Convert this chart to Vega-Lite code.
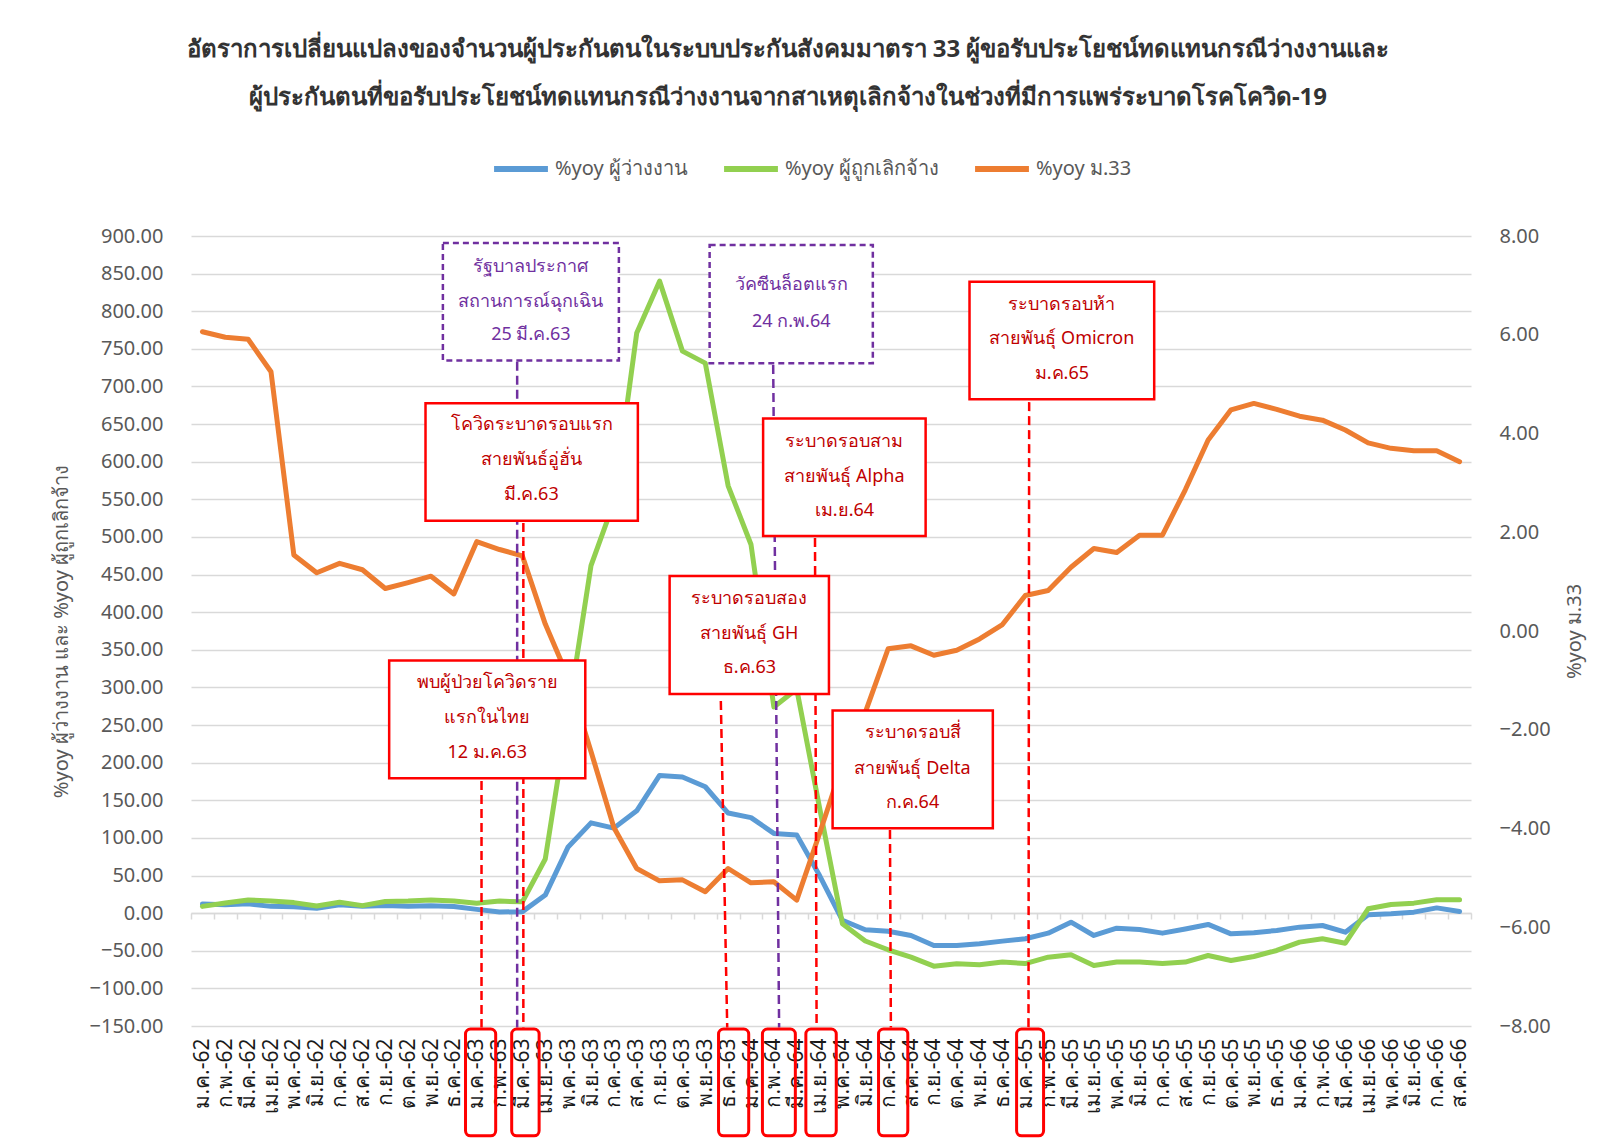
{
  "$schema": "https://vega.github.io/schema/vega-lite/v6.json",
  "width": 1280,
  "height": 790,
  "autosize": {"type": "none"},
  "padding": {"left": 191, "top": 236, "right": 146, "bottom": 114},
  "background": "white",
  "config": {
    "font": "Noto Sans",
    "view": {"stroke": null},
    "axis": {"gridColor": "#D9D9D9", "gridWidth": 1.5}
  },
  "title": {
    "text": [
      "อัตราการเปลี่ยนแปลงของจำนวนผู้ประกันตนในระบบประกันสังคมมาตรา  33 ผู้ขอรับประโยชน์ทดแทนกรณีว่างงานและ",
      "ผู้ประกันตนที่ขอรับประโยชน์ทดแทนกรณีว่างงานจากสาเหตุเลิกจ้างในช่วงที่มีการแพร่ระบาดโรคโควิด-19"
    ],
    "frame": "group",
    "anchor": "middle",
    "dx": -43,
    "offset": 29,
    "fontSize": 24,
    "fontWeight": "bold",
    "color": "#333333",
    "lineHeight": 48
  },
  "datasets": {
    "series": [
      {"i": 0, "month": "ม.ค.-62", "u": 12, "l": 9, "m": 6.06},
      {"i": 1, "month": "ก.พ.-62", "u": 11, "l": 13.5, "m": 5.95},
      {"i": 2, "month": "มี.ค.-62", "u": 12.4, "l": 17.5, "m": 5.91},
      {"i": 3, "month": "เม.ย.-62", "u": 9, "l": 16, "m": 5.25},
      {"i": 4, "month": "พ.ค.-62", "u": 8.4, "l": 14, "m": 1.54},
      {"i": 5, "month": "มิ.ย.-62", "u": 6.6, "l": 9.5, "m": 1.18},
      {"i": 6, "month": "ก.ค.-62", "u": 11, "l": 14.5, "m": 1.37},
      {"i": 7, "month": "ส.ค.-62", "u": 9, "l": 10, "m": 1.24},
      {"i": 8, "month": "ก.ย.-62", "u": 10, "l": 15.5, "m": 0.86},
      {"i": 9, "month": "ต.ค.-62", "u": 9.3, "l": 16, "m": 0.98},
      {"i": 10, "month": "พ.ย.-62", "u": 9.7, "l": 17.5, "m": 1.11},
      {"i": 11, "month": "ธ.ค.-62", "u": 8.9, "l": 16, "m": 0.75},
      {"i": 12, "month": "ม.ค.-63", "u": 5, "l": 13, "m": 1.81},
      {"i": 13, "month": "ก.พ.-63", "u": 1.5, "l": 16, "m": 1.65},
      {"i": 14, "month": "มี.ค.-63", "u": 2, "l": 15, "m": 1.52},
      {"i": 15, "month": "เม.ย.-63", "u": 24, "l": 72, "m": 0.14},
      {"i": 16, "month": "พ.ค.-63", "u": 88, "l": 265, "m": -0.94},
      {"i": 17, "month": "มิ.ย.-63", "u": 120, "l": 462, "m": -2.44},
      {"i": 18, "month": "ก.ค.-63", "u": 113, "l": 546, "m": -3.98},
      {"i": 19, "month": "ส.ค.-63", "u": 136, "l": 771, "m": -4.81},
      {"i": 20, "month": "ก.ย.-63", "u": 183, "l": 840, "m": -5.06},
      {"i": 21, "month": "ต.ค.-63", "u": 181, "l": 747, "m": -5.04},
      {"i": 22, "month": "พ.ย.-63", "u": 168, "l": 731, "m": -5.28},
      {"i": 23, "month": "ธ.ค.-63", "u": 133, "l": 568, "m": -4.81},
      {"i": 24, "month": "ม.ค.-64", "u": 127, "l": 490, "m": -5.1},
      {"i": 25, "month": "ก.พ.-64", "u": 106, "l": 274, "m": -5.08},
      {"i": 26, "month": "มี.ค.-64", "u": 104, "l": 298, "m": -5.45},
      {"i": 27, "month": "เม.ย.-64", "u": 50, "l": 140, "m": -4.1},
      {"i": 28, "month": "พ.ค.-64", "u": -9.5, "l": -14, "m": -2.7},
      {"i": 29, "month": "มิ.ย.-64", "u": -22, "l": -37, "m": -1.65},
      {"i": 30, "month": "ก.ค.-64", "u": -24, "l": -48.7, "m": -0.36},
      {"i": 31, "month": "ส.ค.-64", "u": -29.7, "l": -58.5, "m": -0.3},
      {"i": 32, "month": "ก.ย.-64", "u": -43, "l": -70.5, "m": -0.49},
      {"i": 33, "month": "ต.ค.-64", "u": -43, "l": -67.3, "m": -0.39},
      {"i": 34, "month": "พ.ย.-64", "u": -40.8, "l": -68.7, "m": -0.16},
      {"i": 35, "month": "ธ.ค.-64", "u": -37.2, "l": -65, "m": 0.13},
      {"i": 36, "month": "ม.ค.-65", "u": -34, "l": -67, "m": 0.72},
      {"i": 37, "month": "ก.พ.-65", "u": -26.6, "l": -58.5, "m": 0.82},
      {"i": 38, "month": "มี.ค.-65", "u": -12, "l": -55.4, "m": 1.29},
      {"i": 39, "month": "เม.ย.-65", "u": -29.7, "l": -69.6, "m": 1.67},
      {"i": 40, "month": "พ.ค.-65", "u": -20, "l": -65, "m": 1.59},
      {"i": 41, "month": "มิ.ย.-65", "u": -21.7, "l": -65, "m": 1.94},
      {"i": 42, "month": "ก.ค.-65", "u": -26.6, "l": -67, "m": 1.94},
      {"i": 43, "month": "ส.ค.-65", "u": -21, "l": -65, "m": 2.86},
      {"i": 44, "month": "ก.ย.-65", "u": -15, "l": -56.3, "m": 3.87},
      {"i": 45, "month": "ต.ค.-65", "u": -27.5, "l": -63, "m": 4.48},
      {"i": 46, "month": "พ.ย.-65", "u": -26, "l": -57.6, "m": 4.61},
      {"i": 47, "month": "ธ.ค.-65", "u": -23, "l": -49.6, "m": 4.49},
      {"i": 48, "month": "ม.ค.-66", "u": -18.6, "l": -38.5, "m": 4.35},
      {"i": 49, "month": "ก.พ.-66", "u": -16.4, "l": -34, "m": 4.27},
      {"i": 50, "month": "มี.ค.-66", "u": -25.3, "l": -40, "m": 4.07},
      {"i": 51, "month": "เม.ย.-66", "u": -2.2, "l": 5.8, "m": 3.81},
      {"i": 52, "month": "พ.ค.-66", "u": -0.9, "l": 11.5, "m": 3.7},
      {"i": 53, "month": "มิ.ย.-66", "u": 1.3, "l": 13.3, "m": 3.65},
      {"i": 54, "month": "ก.ค.-66", "u": 7, "l": 17.7, "m": 3.65},
      {"i": 55, "month": "ส.ค.-66", "u": 2.2, "l": 17.7, "m": 3.43}
    ],
    "boxes": [
      {"x1": 10.52, "x2": 18.22, "y1": 890.6, "y2": 734.5, "kind": "purple"},
      {"x1": 9.76, "x2": 19.05, "y1": 677.7, "y2": 521.5, "kind": "red"},
      {"x1": 8.17, "x2": 16.75, "y1": 335.7, "y2": 179.2, "kind": "red"},
      {"x1": 20.44, "x2": 27.41, "y1": 448, "y2": 291.2, "kind": "red"},
      {"x1": 22.19, "x2": 29.33, "y1": 888, "y2": 730.8, "kind": "purple"},
      {"x1": 24.53, "x2": 31.64, "y1": 657.4, "y2": 501.2, "kind": "red"},
      {"x1": 27.57, "x2": 34.58, "y1": 269.3, "y2": 112.7, "kind": "red"},
      {"x1": 33.56, "x2": 41.64, "y1": 839.2, "y2": 682.9, "kind": "red"}
    ],
    "links": [
      {"x1": 13.77, "y1": 733, "x2": 13.77, "y2": -152, "kind": "purple"},
      {"x1": 12.21, "y1": 175.6, "x2": 12.21, "y2": -152, "kind": "red"},
      {"x1": 14.04, "y1": 518.5, "x2": 14.04, "y2": -152, "kind": "red"},
      {"x1": 22.68, "y1": 282, "x2": 22.96, "y2": -152, "kind": "red"},
      {"x1": 24.97, "y1": 728.5, "x2": 25.23, "y2": -152, "kind": "purple"},
      {"x1": 26.8, "y1": 498.5, "x2": 26.87, "y2": -152, "kind": "red"},
      {"x1": 30.08, "y1": 110.5, "x2": 30.12, "y2": -152, "kind": "red"},
      {"x1": 36.17, "y1": 679.2, "x2": 36.14, "y2": -152, "kind": "red"}
    ],
    "marks": [
      {"x1": 11.51, "x2": 12.83, "y1": -154, "y2": -296},
      {"x1": 13.53, "x2": 14.73, "y1": -154, "y2": -296},
      {"x1": 22.58, "x2": 23.9, "y1": -154, "y2": -296},
      {"x1": 24.5, "x2": 25.94, "y1": -154, "y2": -296},
      {"x1": 26.4, "x2": 27.73, "y1": -154, "y2": -296},
      {"x1": 29.58, "x2": 30.86, "y1": -154, "y2": -296},
      {"x1": 35.62, "x2": 36.8, "y1": -154, "y2": -296}
    ],
    "notes": [
      {"x": 14.37, "y": 859.2, "text": "รัฐบาลประกาศ", "kind": "purple"},
      {"x": 14.37, "y": 812.6, "text": "สถานการณ์ฉุกเฉิน", "kind": "purple"},
      {"x": 14.37, "y": 768.4, "text": "25 มี.ค.63", "kind": "purple"},
      {"x": 14.4, "y": 648.7, "text": "โควิดระบาดรอบแรก", "kind": "red"},
      {"x": 14.4, "y": 602.2, "text": "สายพันธ์อู่ฮั่น", "kind": "red"},
      {"x": 14.4, "y": 555.6, "text": "มี.ค.63", "kind": "red"},
      {"x": 12.46, "y": 306.4, "text": "พบผู้ป่วยโควิดราย", "kind": "red"},
      {"x": 12.46, "y": 259.7, "text": "แรกในไทย", "kind": "red"},
      {"x": 12.46, "y": 213.1, "text": "12 ม.ค.63", "kind": "red"},
      {"x": 23.93, "y": 417, "text": "ระบาดรอบสอง", "kind": "red"},
      {"x": 23.93, "y": 371, "text": "สายพันธุ์ GH", "kind": "red"},
      {"x": 23.93, "y": 325.4, "text": "ธ.ค.63", "kind": "red"},
      {"x": 25.76, "y": 834.8, "text": "วัคซีนล็อตแรก", "kind": "purple"},
      {"x": 25.76, "y": 786, "text": "24 ก.พ.64", "kind": "purple"},
      {"x": 28.09, "y": 626.6, "text": "ระบาดรอบสาม", "kind": "red"},
      {"x": 28.09, "y": 580, "text": "สายพันธุ์ Alpha", "kind": "red"},
      {"x": 28.09, "y": 534.8, "text": "เม.ย.64", "kind": "red"},
      {"x": 31.07, "y": 239.5, "text": "ระบาดรอบสี่", "kind": "red"},
      {"x": 31.07, "y": 192, "text": "สายพันธุ์ Delta", "kind": "red"},
      {"x": 31.07, "y": 146, "text": "ก.ค.64", "kind": "red"},
      {"x": 37.6, "y": 808.2, "text": "ระบาดรอบห้า", "kind": "red"},
      {"x": 37.6, "y": 762.6, "text": "สายพันธุ์ Omicron", "kind": "red"},
      {"x": 37.6, "y": 716.5, "text": "ม.ค.65", "kind": "red"}
    ]
  },
  "resolve": {"scale": {"y": "independent"}, "axis": {"x": "independent"}},
  "layer": [
    {
      "data": {"name": "series"},
      "encoding": {
        "x": {
          "field": "i", "type": "quantitative",
          "scale": {"domain": [-0.5, 55.5], "nice": false, "zero": false},
          "axis": {
            "orient": "bottom", "title": null, "grid": false, "ticks": false, "domain": false,
            "values": [0,1,2,3,4,5,6,7,8,9,10,11,12,13,14,15,16,17,18,19,20,21,22,23,24,25,26,27,28,29,30,31,32,33,34,35,36,37,38,39,40,41,42,43,44,45,46,47,48,49,50,51,52,53,54,55],
            "labelExpr": "['ม.ค.','ก.พ.','มี.ค.','เม.ย.','พ.ค.','มิ.ย.','ก.ค.','ส.ค.','ก.ย.','ต.ค.','พ.ย.','ธ.ค.'][datum.value % 12] + '-' + (62 + floor(datum.value / 12))",
            "labelAngle": 270, "labelFontSize": 21, "labelColor": "#1a1a1a", "labelPadding": 12,
            "labelOverlap": false, "labelBound": false, "labelFlush": false
          }
        },
        "y": {
          "type": "quantitative",
          "scale": {"domain": [-150, 900], "nice": false, "zero": false},
          "axis": {
            "orient": "left", "grid": true, "ticks": false, "domain": false,
            "values": [-150,-100,-50,0,50,100,150,200,250,300,350,400,450,500,550,600,650,700,750,800,850,900],
            "format": ".2f", "labelFontSize": 20, "labelColor": "#595959", "labelPadding": 28,
            "title": "%yoy ผู้ว่างงาน และ %yoy ผู้ถูกเลิกจ้าง", "titleFontSize": 20, "titleFontWeight": "normal",
            "titleColor": "#595959", "titlePadding": 18
          }
        }
      },
      "layer": [
        {
          "mark": {"type": "line", "strokeWidth": 5, "strokeJoin": "round", "strokeCap": "round"},
          "encoding": {
            "y": {"field": "u", "type": "quantitative"},
            "color": {
              "datum": "u", "type": "nominal",
              "scale": {"domain": ["u", "l", "m"], "range": ["#5B9BD5", "#92D050", "#ED7D31"]},
              "legend": {
                "orient": "none", "legendX": 300, "legendY": -97, "direction": "horizontal", "title": null,
                "symbolType": "stroke", "symbolStrokeWidth": 6, "symbolSize": 2900,
                "labelFontSize": 20, "labelColor": "#595959", "labelOffset": 4, "columnPadding": 24,
                "labelExpr": "datum.label == 'u' ? '%yoy ผู้ว่างงาน' : datum.label == 'l' ? '%yoy ผู้ถูกเลิกจ้าง' : '%yoy ม.33'"
              }
            }
          }
        },
        {
          "mark": {"type": "line", "strokeWidth": 5, "strokeJoin": "round", "strokeCap": "round"},
          "encoding": {
            "y": {"field": "l", "type": "quantitative"},
            "color": {
              "datum": "l", "type": "nominal",
              "scale": {"domain": ["u", "l", "m"], "range": ["#5B9BD5", "#92D050", "#ED7D31"]},
              "legend": {
                "orient": "none", "legendX": 300, "legendY": -97, "direction": "horizontal", "title": null,
                "symbolType": "stroke", "symbolStrokeWidth": 6, "symbolSize": 2900,
                "labelFontSize": 20, "labelColor": "#595959", "labelOffset": 4, "columnPadding": 24,
                "labelExpr": "datum.label == 'u' ? '%yoy ผู้ว่างงาน' : datum.label == 'l' ? '%yoy ผู้ถูกเลิกจ้าง' : '%yoy ม.33'"
              }
            }
          }
        }
      ]
    },
    {
      "data": {"name": "series"},
      "mark": {"type": "line", "strokeWidth": 5, "strokeJoin": "round", "strokeCap": "round"},
      "encoding": {
        "x": {
          "field": "i", "type": "quantitative",
          "scale": {"domain": [-0.5, 55.5], "nice": false, "zero": false},
          "axis": {
            "orient": "bottom", "offset": -113, "title": null, "labels": false, "grid": false,
            "ticks": true, "tickSize": 6, "tickColor": "#D9D9D9", "tickWidth": 1.5,
            "domain": true, "domainColor": "#D9D9D9", "domainWidth": 1.5,
            "values": [-0.5,0.5,1.5,2.5,3.5,4.5,5.5,6.5,7.5,8.5,9.5,10.5,11.5,12.5,13.5,14.5,15.5,16.5,17.5,18.5,19.5,20.5,21.5,22.5,23.5,24.5,25.5,26.5,27.5,28.5,29.5,30.5,31.5,32.5,33.5,34.5,35.5,36.5,37.5,38.5,39.5,40.5,41.5,42.5,43.5,44.5,45.5,46.5,47.5,48.5,49.5,50.5,51.5,52.5,53.5,54.5,55.5]
          }
        },
        "y": {
          "field": "m", "type": "quantitative",
          "scale": {"domain": [-8, 8], "nice": false, "zero": false},
          "axis": {
            "orient": "right", "grid": false, "ticks": false, "domain": false,
            "values": [-8,-6,-4,-2,0,2,4,6,8],
            "format": ".2f", "labelFontSize": 20, "labelColor": "#595959", "labelPadding": 28,
            "title": "%yoy ม.33", "titleFontSize": 20, "titleFontWeight": "normal",
            "titleColor": "#595959", "titlePadding": 34, "titleAngle": 270
          }
        },
        "color": {
          "datum": "m", "type": "nominal",
          "scale": {"domain": ["u", "l", "m"], "range": ["#5B9BD5", "#92D050", "#ED7D31"]},
          "legend": {
            "orient": "none", "legendX": 300, "legendY": -97, "direction": "horizontal", "title": null,
            "symbolType": "stroke", "symbolStrokeWidth": 6, "symbolSize": 2900,
            "labelFontSize": 20, "labelColor": "#595959", "labelOffset": 4, "columnPadding": 24,
            "labelExpr": "datum.label == 'u' ? '%yoy ผู้ว่างงาน' : datum.label == 'l' ? '%yoy ผู้ถูกเลิกจ้าง' : '%yoy ม.33'"
          }
        }
      }
    },
    {
      "layer": [
        {
          "data": {"name": "links"},
          "mark": {"type": "rule", "strokeWidth": 2.5, "strokeDash": [9, 5]},
          "encoding": {
            "x": {"field": "x1", "type": "quantitative", "scale": {"domain": [-0.5, 55.5], "nice": false, "zero": false}, "axis": null},
            "x2": {"field": "x2"},
            "y": {"field": "y1", "type": "quantitative", "scale": {"domain": [-150, 900], "nice": false, "zero": false}, "axis": null},
            "y2": {"field": "y2"},
            "stroke": {"field": "kind", "type": "nominal", "scale": {"domain": ["red", "purple"], "range": ["#FF0000", "#7030A0"]}, "legend": null}
          }
        },
        {
          "data": {"name": "boxes"},
          "transform": [{"filter": "datum.kind == 'red'"}],
          "mark": {"type": "rect", "fill": "white", "stroke": "#FF0000", "strokeWidth": 2.5},
          "encoding": {
            "x": {"field": "x1", "type": "quantitative", "scale": {"domain": [-0.5, 55.5], "nice": false, "zero": false}, "axis": null},
            "x2": {"field": "x2"},
            "y": {"field": "y1", "type": "quantitative", "scale": {"domain": [-150, 900], "nice": false, "zero": false}, "axis": null},
            "y2": {"field": "y2"}
          }
        },
        {
          "data": {"name": "boxes"},
          "transform": [{"filter": "datum.kind == 'purple'"}],
          "mark": {"type": "rect", "fill": "white", "stroke": "#7030A0", "strokeWidth": 2.5, "strokeDash": [6, 4]},
          "encoding": {
            "x": {"field": "x1", "type": "quantitative", "scale": {"domain": [-0.5, 55.5], "nice": false, "zero": false}, "axis": null},
            "x2": {"field": "x2"},
            "y": {"field": "y1", "type": "quantitative", "scale": {"domain": [-150, 900], "nice": false, "zero": false}, "axis": null},
            "y2": {"field": "y2"}
          }
        },
        {
          "data": {"name": "marks"},
          "mark": {"type": "rect", "fill": null, "fillOpacity": 0, "stroke": "#FF0000", "strokeWidth": 3, "cornerRadius": 5},
          "encoding": {
            "x": {"field": "x1", "type": "quantitative", "scale": {"domain": [-0.5, 55.5], "nice": false, "zero": false}, "axis": null},
            "x2": {"field": "x2"},
            "y": {"field": "y1", "type": "quantitative", "scale": {"domain": [-150, 900], "nice": false, "zero": false}, "axis": null},
            "y2": {"field": "y2"}
          }
        },
        {
          "data": {"name": "notes"},
          "mark": {"type": "text", "fontSize": 18, "align": "center", "baseline": "middle"},
          "encoding": {
            "x": {"field": "x", "type": "quantitative", "scale": {"domain": [-0.5, 55.5], "nice": false, "zero": false}, "axis": null},
            "y": {"field": "y", "type": "quantitative", "scale": {"domain": [-150, 900], "nice": false, "zero": false}, "axis": null},
            "text": {"field": "text"},
            "fill": {"field": "kind", "type": "nominal", "scale": {"domain": ["red", "purple"], "range": ["#C00000", "#7030A0"]}, "legend": null}
          }
        }
      ]
    }
  ]
}
